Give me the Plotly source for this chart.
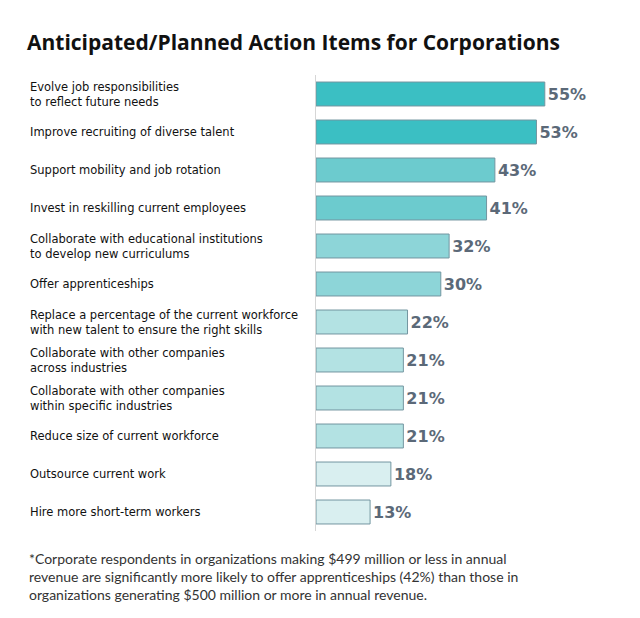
import plotly.graph_objects as go

categories = [
    "Evolve job responsibilities<br>to reflect future needs",
    "Improve recruiting of diverse talent",
    "Support mobility and job rotation",
    "Invest in reskilling current employees",
    "Collaborate with educational institutions<br>to develop new curriculums",
    "Offer apprenticeships",
    "Replace a percentage of the current workforce<br>with new talent to ensure the right skills",
    "Collaborate with other companies<br>across industries",
    "Collaborate with other companies<br>within specific industries",
    "Reduce size of current workforce",
    "Outsource current work",
    "Hire more short-term workers",
]
values = [55, 53, 43, 41, 32, 30, 22, 21, 21, 21, 18, 13]
colors = ["#3bbfc3", "#3bbfc3", "#6ccbce", "#6ccbce", "#8dd5d8", "#8dd5d8",
          "#b3e2e3", "#b3e2e3", "#b3e2e3", "#b3e2e3", "#d9eff0", "#d9eff0"]

title = "Anticipated/Planned Action Items for Corporations"
footnote = ("*Corporate respondents in organizations making $499 million or less in annual<br>"
            "revenue are significantly more likely to offer apprenticeships (42%) than those in<br>"
            "organizations generating $500 million or more in annual revenue.")

ids = list(range(len(categories)))

fig = go.Figure(go.Bar(
    x=values, y=ids, orientation="h",
    marker=dict(color=colors, line=dict(color="#7396a0", width=1)),
    width=0.63,
    text=[f"{v}%" for v in values], textposition="outside",
    textfont=dict(family="DejaVu Sans", size=16, color="#5b6978", weight="bold"),
    cliponaxis=False,
    hoverinfo="skip",
))

L, R, T, B = 316, 20, 75, 87
W, H = 640, 618
pw = W - L - R

annotations = []
for i, c in zip(ids, categories):
    annotations.append(dict(
        x=(28 - L) / pw, xref="paper", y=i, yref="y", text=c, showarrow=False,
        xanchor="left", yanchor="middle", align="left",
        font=dict(family="DejaVu Sans", size=11.5, color="#111111"),
    ))
annotations.append(dict(
    x=(27 - L) / pw, xref="paper", y=-(548 - (H - B)) / (H - T - B), yref="paper",
    text=footnote, showarrow=False, xanchor="left", yanchor="top", align="left",
    font=dict(family="Lato", size=14, color="#333333"),
))

fig.update_layout(
    width=W, height=H,
    margin=dict(l=L, r=R, t=T, b=B),
    paper_bgcolor="white", plot_bgcolor="white",
    title=dict(text=f"<b>{title}</b>", x=27 / W, xanchor="left", y=1 - 43 / H, yanchor="middle",
               font=dict(family="Open Sans", size=21, color="#111111")),
    xaxis=dict(range=[0, pw / 4.16], showgrid=False, showticklabels=False, zeroline=False,
               showline=False, ticks=""),
    yaxis=dict(range=[11.5, -0.5], showgrid=False, showticklabels=False, zeroline=False,
               showline=True, linecolor="#d6d6d6", linewidth=1, ticks=""),
    annotations=annotations,
    showlegend=False,
)

fig.write_html("out.html", config={"displayModeBar": False},
               post_script="document.body.style.margin='0';document.body.style.padding='0';")
